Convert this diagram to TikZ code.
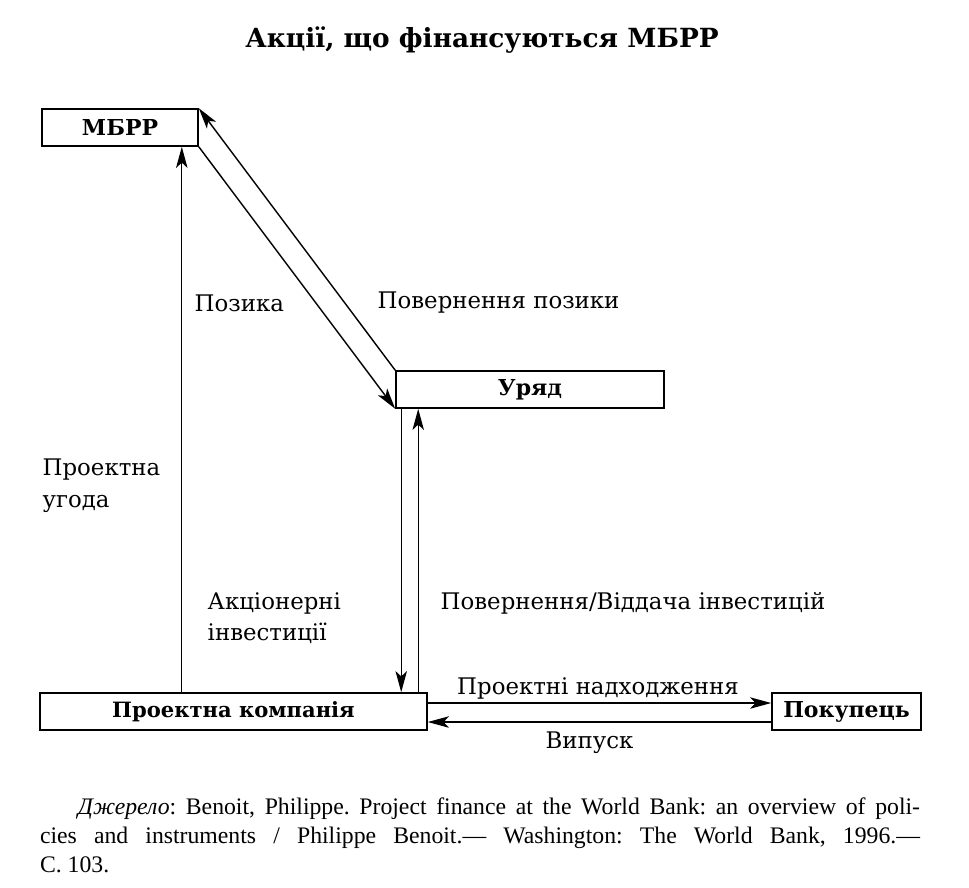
\documentclass[tikz,border=0pt]{standalone}
\usepackage{fontspec}
\setmainfont{DejaVu Serif}
\newfontfamily\srcfont{Liberation Serif}
\usetikzlibrary{arrows.meta,positioning,calc}

\begin{document}
\begin{tikzpicture}[>={Stealth[length=12pt,width=6.5pt,inset=3pt]}, line width=0.8pt,
  box/.style={draw, line width=0.9pt, minimum height=0.74cm, inner sep=0pt, font=\fontsize{12.5}{15}\selectfont\bfseries},
  lbl/.style={font=\fontsize{13}{18}\selectfont, inner sep=0pt, align=left}]
  \useasboundingbox (0,0) rectangle (19.38,-17.74);

  % Title
  \node[font=\fontsize{15}{18}\selectfont\bfseries] (title) at (9.64,-0.80) {Акції, що фінансуються МБРР};

  % Boxes
  \node[box, minimum width=3.12cm] (mbrr) at (2.40,-2.55) {МБРР};
  \node[box, minimum width=5.36cm] (uryad) at (10.60,-7.79) {Уряд};
  \node[box, minimum width=7.74cm, font=\fontsize{12}{15}\selectfont\bfseries] (company) at (4.67,-14.23) {Проектна компанія};
  \node[box, minimum width=2.98cm] (buyer) at (16.93,-14.23) {Покупець};

  % Flows
  \draw[->] ($(mbrr.south east |- company.north)+(-0.34,0)$) -- ($(mbrr.south east)+(-0.34,0)$);
  \draw[->] (mbrr.south east) -- (uryad.south west);
  \draw[->] (uryad.north west) -- (mbrr.north east);
  \draw[->] ($(uryad.south west)+(0.12,0)$) -- ($(uryad.south west |- company.north)+(0.12,0)$);
  \draw[->] ($(uryad.south west |- company.north)+(0.46,0)$) -- ($(uryad.south west)+(0.46,0)$);
  \draw[->] ($(company.east)+(0,0.17)$) -- ($(buyer.west)+(0,0.17)$);
  \draw[->] ($(buyer.west)+(0,-0.21)$) -- ($(company.east)+(0,-0.21)$);

  % Labels
  \node[lbl, anchor=west] (loan) at (3.88,-6.06) {Позика};
  \node[lbl, anchor=west] (repay) at (7.54,-6.06) {Повернення позики};
  \node[lbl, anchor=west] (deal) at (0.84,-9.72) {Проектна\\угода};
  \node[lbl, anchor=west] (equity) at (4.14,-12.36) {Акціонерні\\інвестиції};
  \node[lbl, anchor=west] (returns) at (8.80,-12.06) {Повернення/Віддача інвестицій};
  \node[lbl] (revenue) at (11.96,-13.76) {Проектні надходження};
  \node[lbl] (output) at (11.79,-14.86) {Випуск};

  % Source
  \node[font=\srcfont\fontsize{13.5}{16.4}\selectfont, text width=17.6cm, align=justify, inner sep=0pt] (source) at (9.60,-16.70)
    {\frenchspacing\hspace*{0.76cm}\textit{Джерело}: Benoit, Philippe. Project finance at the World Bank: an overview of poli-\linebreak
     cies and instruments / Philippe Benoit.— Washington: The World Bank, 1996.—\linebreak
     С. 103.};
\end{tikzpicture}
\end{document}
